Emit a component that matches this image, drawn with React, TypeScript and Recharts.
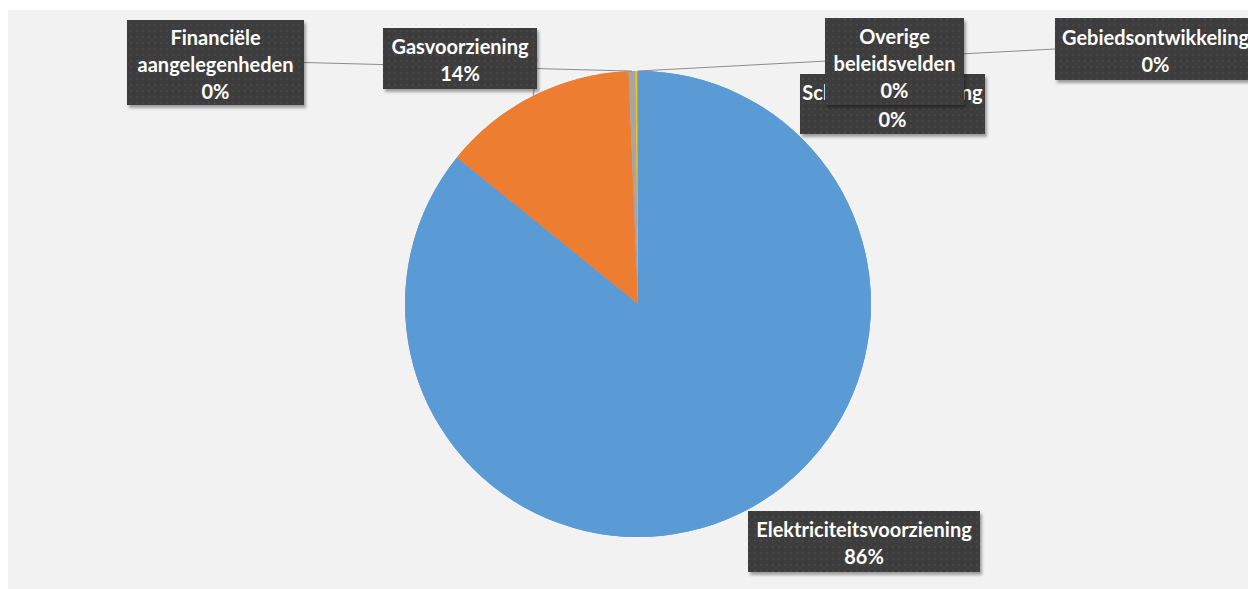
import { Pie, PieChart } from "recharts";

// beleidsvelden en hun aandeel in procenten
const categories = [
  "Elektriciteitsvoorziening",
  "Gasvoorziening",
  "Financiële aangelegenheden",
  "Schuldhulpverlening",
  "Overige beleidsvelden",
  "Gebiedsontwikkeling",
];
const shares = [85.83, 13.52, 0.48, 0.14, 0.02, 0.01];
const colors = ["#5B9BD5", "#ED7D31", "#A5A5A5", "#FFC000", "#4472C4", "#70AD47"];

// how the name is broken over lines inside the box
const labelLines: Record<string, string[]> = {
  "Financiële aangelegenheden": ["Financiële", "aangelegenheden"],
  "Overige beleidsvelden": ["Overige", "beleidsvelden"],
};

// manual label placement (box centre relative to pie centre), like the dragged Excel labels
const boxLayout = [
  { dx: 226, dy: 237.5, w: 232, h: 61, line: null },
  { dx: -178, dy: -245.5, w: 154, h: 61, line: "right" },
  { dx: -422.5, dy: -241.5, w: 177, h: 85, line: "right" },
  { dx: 254.5, dy: -200, w: 185, h: 60, line: null },
  { dx: 256.5, dy: -242.5, w: 139, h: 87, line: null },
  { dx: 517.5, dy: -255, w: 201, h: 62, line: "left" },
];

const data = categories.map((name, i) => ({ name, value: shares[i], fill: colors[i] }));

const RAD = Math.PI / 180;

function renderLeader(props: any) {
  const { cx, cy, outerRadius, midAngle, index } = props;
  const b = boxLayout[index];
  if (!b.line) return <g />;
  const ex = cx + outerRadius * Math.cos(-midAngle * RAD);
  const ey = cy + outerRadius * Math.sin(-midAngle * RAD);
  const sx = b.line === "right" ? cx + b.dx + b.w / 2 : cx + b.dx - b.w / 2;
  const sy = cy + b.dy;
  return <line x1={sx} y1={sy} x2={ex} y2={ey} stroke="#8C8C8C" strokeWidth={1} />;
}

function renderBox(props: any) {
  const { cx, cy, index, name, percent } = props;
  const b = boxLayout[index];
  const bx = cx + b.dx;
  const by = cy + b.dy;
  const lines = [...(labelLines[name] || [name]), `${Math.round(percent * 100)}%`];
  const lh = 27;
  const top = by - ((lines.length - 1) * lh) / 2 + 1;
  return (
    <g>
      <rect
        x={bx - b.w / 2}
        y={by - b.h / 2}
        width={b.w}
        height={b.h}
        fill="url(#dots)"
        filter="url(#boxShadow)"
      />
      {lines.map((t, i) => (
        <text
          key={i}
          x={bx}
          y={top + i * lh}
          textAnchor="middle"
          dominantBaseline="central"
          fill="#FFFFFF"
          fontFamily="Lato, 'Noto Sans', sans-serif"
          fontWeight={700}
          fontSize={20}
        >
          {t}
        </text>
      ))}
    </g>
  );
}

export default function App() {
  return (
    <div style={{ width: 1248, height: 579, marginTop: 2, background: "#F2F2F2" }}>
      <svg width={0} height={0} style={{ position: "absolute" }}>
        <defs>
          <pattern id="dots" width={6} height={6} patternUnits="userSpaceOnUse">
            <rect width={6} height={6} fill="#3E3E3E" />
            <circle cx={3} cy={3} r={0.7} fill="#575757" />
          </pattern>
          <filter id="boxShadow" x="-10%" y="-20%" width="130%" height="150%">
            <feDropShadow dx={2} dy={3} stdDeviation={1.5} floodColor="#000" floodOpacity={0.35} />
          </filter>
        </defs>
      </svg>
      <PieChart width={1248} height={579} margin={{ top: 0, right: 0, bottom: 0, left: 0 }}>
        <Pie
          data={data}
          dataKey="value"
          nameKey="name"
          cx={630}
          cy={294}
          outerRadius={233}
          startAngle={90}
          endAngle={-270}
          stroke="none"
          label={renderLeader}
          labelLine={false}
          isAnimationActive={false}
        />
        <Pie
          data={data}
          dataKey="value"
          nameKey="name"
          cx={630}
          cy={294}
          outerRadius={233}
          startAngle={90}
          endAngle={-270}
          stroke="none"
          label={renderBox}
          labelLine={false}
          isAnimationActive={false}
        />
      </PieChart>
    </div>
  );
}
